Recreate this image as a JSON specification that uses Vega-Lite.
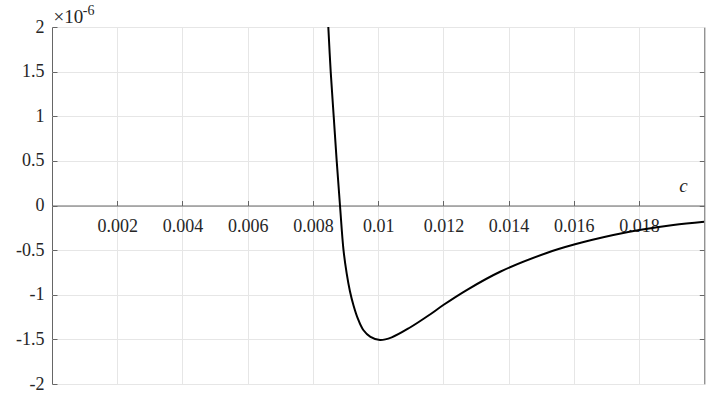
{
  "$schema": "https://vega.github.io/schema/vega-lite/v6.json",
  "width": 652.3,
  "height": 357,
  "autosize": {"type": "none"},
  "padding": {"left": 52, "top": 27, "right": 17.7, "bottom": 29},
  "background": "white",
  "config": {
    "view": {"stroke": "#666666", "strokeWidth": 1},
    "axis": {
      "labelFont": "Liberation Serif",
      "labelFontSize": 18,
      "labelColor": "#262626",
      "titleFont": "Liberation Serif",
      "titleColor": "#262626",
      "titleFontWeight": "normal",
      "domainColor": "#666666",
      "tickColor": "#666666",
      "gridColor": "#e6e6e6",
      "labelFlush": false,
      "labelOverlap": false
    }
  },
  "data": {
    "values": [
      {"c": 0.008472, "y": 2.0},
      {"c": 0.008545, "y": 1.5},
      {"c": 0.008637, "y": 1.0},
      {"c": 0.008729, "y": 0.5},
      {"c": 0.00883, "y": 0.0},
      {"c": 0.008938, "y": -0.5},
      {"c": 0.009035, "y": -0.76},
      {"c": 0.009135, "y": -0.96},
      {"c": 0.009245, "y": -1.12},
      {"c": 0.009375, "y": -1.265},
      {"c": 0.009545, "y": -1.395},
      {"c": 0.009765, "y": -1.472},
      {"c": 0.010057, "y": -1.507},
      {"c": 0.010415, "y": -1.477},
      {"c": 0.010977, "y": -1.367},
      {"c": 0.01159, "y": -1.221},
      {"c": 0.011998, "y": -1.115},
      {"c": 0.012715, "y": -0.947},
      {"c": 0.01374, "y": -0.742},
      {"c": 0.015168, "y": -0.532},
      {"c": 0.016036, "y": -0.435},
      {"c": 0.01721, "y": -0.331},
      {"c": 0.018007, "y": -0.275},
      {"c": 0.01905, "y": -0.218},
      {"c": 0.02, "y": -0.182}
    ]
  },
  "layer": [
    {
      "mark": {"type": "line", "strokeOpacity": 0, "clip": true},
      "encoding": {
        "x": {
          "field": "c", "type": "quantitative",
          "scale": {"domain": [0, 0.02], "nice": false, "zero": false},
          "axis": {
            "orient": "bottom",
            "values": [0.002, 0.004, 0.006, 0.008, 0.01, 0.012, 0.014, 0.016, 0.018],
            "grid": true, "labels": false, "ticks": false, "domain": false, "title": null
          }
        },
        "y": {
          "field": "y", "type": "quantitative",
          "scale": {"domain": [-2, 2], "nice": false, "zero": false},
          "axis": {
            "orient": "left",
            "values": [-2, -1.5, -1, -0.5, 0, 0.5, 1, 1.5, 2],
            "grid": true,
            "tickSize": -5,
            "labelPadding": 13,
            "labelFont": "Liberation Serif",
            "domain": false,
            "labelExpr": "'' + datum.value",
            "title": "×10",
            "titleX": 1,
            "titleY": -4.3,
            "titleAngle": 0,
            "titleAlign": "left",
            "titleBaseline": "alphabetic",
            "titleFontSize": 19
          }
        }
      }
    },
    {
      "mark": {"type": "line", "color": "black", "strokeWidth": 2, "clip": true, "interpolate": "catmull-rom"},
      "encoding": {
        "x": {
          "field": "c", "type": "quantitative",
          "scale": {"domain": [0, 0.02], "nice": false, "zero": false},
          "axis": {
            "orient": "bottom",
            "offset": -178.5,
            "values": [0.002, 0.004, 0.006, 0.008, 0.01, 0.012, 0.014, 0.016, 0.018],
            "grid": false,
            "tickSize": -5,
            "labelPadding": 17,
            "labelBaseline": "top",
            "labelFont": "Liberation Serif",
            "domain": true,
            "labelExpr": "'' + datum.value",
            "title": "c",
            "titleX": 631,
            "titleY": -14.5,
            "titleAlign": "center",
            "titleBaseline": "alphabetic",
            "titleFontStyle": "italic",
            "titleFontSize": 19,
            "zindex": 0
          }
        },
        "y": {
          "field": "y", "type": "quantitative",
          "scale": {"domain": [-2, 2], "nice": false, "zero": false},
          "axis": {
            "orient": "right",
            "values": [-1.5, -1, -0.5, 0, 0.5, 1, 1.5],
            "grid": false,
            "labels": false,
            "tickSize": -5,
            "domain": false,
            "title": "-6",
            "titleX": -622,
            "titleY": -13,
            "titleAngle": 0,
            "titleAlign": "left",
            "titleBaseline": "alphabetic",
            "titleFontSize": 14
          }
        }
      }
    }
  ],
  "resolve": {"axis": {"x": "independent", "y": "independent"}}
}
